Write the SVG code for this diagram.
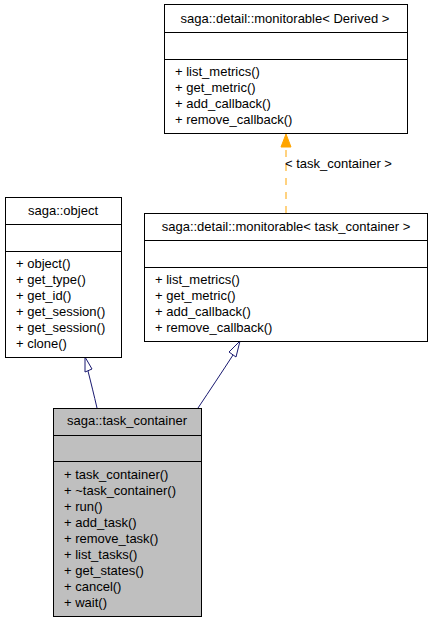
<svg xmlns="http://www.w3.org/2000/svg" width="432" height="621" viewBox="0 0 432 621">
<style>
.box{fill:#fff;stroke:#000;stroke-width:1}
.grey{fill:#bfbfbf}
.ln{stroke:#000;stroke-width:1}
text{font-family:"Liberation Sans",Arial,sans-serif;font-size:13px;fill:#000}
.c{text-anchor:middle}
.inh{fill:none;stroke:#191970;stroke-width:1}
.tri{fill:#fff;stroke:#191970;stroke-width:1}
</style>
<rect width="432" height="621" fill="#fff"/>
<g id="connectors">
<path class="inh" d="M97,408 C94,395 91,383 88,371"/>
<polygon class="tri" points="85,357 85,372 92,369"/>
<path class="inh" d="M198,408 C210,390 222,372 233,355"/>
<polygon class="tri" points="240,341 229,352 236,357"/>
<line x1="286" y1="213" x2="286" y2="147" stroke="#ffa500" stroke-width="1" stroke-dasharray="7,7"/>
<polygon points="286,134 281,147 291,147" fill="#ffa500" stroke="#ffa500"/>
<text x="285" y="168">&lt; task_container &gt;</text>
</g>
<g id="monitorable_derived">
<rect class="box" x="164.5" y="4.5" width="243" height="129"/>
<line class="ln" x1="164.5" y1="32.5" x2="407.5" y2="32.5"/>
<line class="ln" x1="164.5" y1="59.5" x2="407.5" y2="59.5"/>
<text class="c" x="285" y="23">saga::detail::monitorable&lt; Derived &gt;</text>
<text x="175" y="76">+ list_metrics()</text>
<text x="175" y="92">+ get_metric()</text>
<text x="175" y="108">+ add_callback()</text>
<text x="175" y="124">+ remove_callback()</text>
</g>
<g id="saga_object">
<rect class="box" x="5.5" y="197.5" width="116" height="160"/>
<line class="ln" x1="5.5" y1="224.5" x2="121.5" y2="224.5"/>
<line class="ln" x1="5.5" y1="251.5" x2="121.5" y2="251.5"/>
<text class="c" x="63" y="215">saga::object</text>
<text x="16" y="268">+ object()</text>
<text x="16" y="284">+ get_type()</text>
<text x="16" y="300">+ get_id()</text>
<text x="16" y="316">+ get_session()</text>
<text x="16" y="332">+ get_session()</text>
<text x="16" y="348">+ clone()</text>
</g>
<g id="monitorable_task_container">
<rect class="box" x="144.5" y="213.5" width="283" height="128"/>
<line class="ln" x1="144.5" y1="240.5" x2="427.5" y2="240.5"/>
<line class="ln" x1="144.5" y1="267.5" x2="427.5" y2="267.5"/>
<text class="c" x="286" y="231">saga::detail::monitorable&lt; task_container &gt;</text>
<text x="155" y="284">+ list_metrics()</text>
<text x="155" y="300">+ get_metric()</text>
<text x="155" y="316">+ add_callback()</text>
<text x="155" y="332">+ remove_callback()</text>
</g>
<g id="task_container">
<rect class="box grey" x="53.5" y="408.5" width="148" height="208"/>
<line class="ln" x1="53.5" y1="435.5" x2="201.5" y2="435.5"/>
<line class="ln" x1="53.5" y1="461.5" x2="201.5" y2="461.5"/>
<text class="c" x="127" y="425">saga::task_container</text>
<text x="64" y="479">+ task_container()</text>
<text x="64" y="495">+ ~task_container()</text>
<text x="64" y="511">+ run()</text>
<text x="64" y="527">+ add_task()</text>
<text x="64" y="543">+ remove_task()</text>
<text x="64" y="559">+ list_tasks()</text>
<text x="64" y="575">+ get_states()</text>
<text x="64" y="591">+ cancel()</text>
<text x="64" y="607">+ wait()</text>
</g>
</svg>
